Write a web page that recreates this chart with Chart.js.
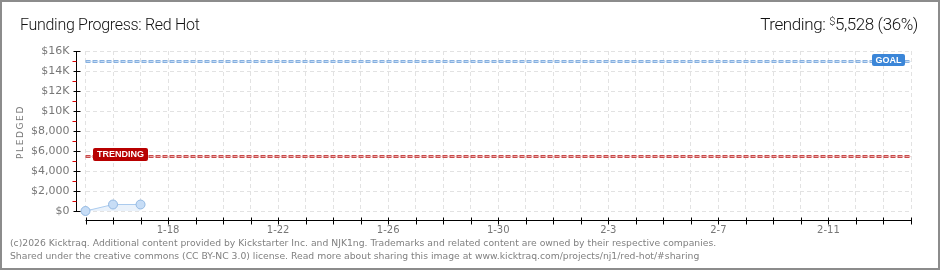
<!DOCTYPE html>
<html>
<head>
<meta charset="utf-8">
<script src="https://cdn.jsdelivr.net/npm/chart.js@4.4.1/dist/chart.umd.min.js"></script>
<style>
  html, body { margin: 0; padding: 0; background: #fff; }
  #frame { position: relative; width: 940px; height: 270px; box-sizing: border-box; border: 2px solid #8c8c8c; overflow: hidden; }
  #chart { position: absolute; left: -2px; top: -2px; }
  .title { position: absolute; left: 18px; top: 13px; font: 300 16px Roboto, sans-serif; color: #111; letter-spacing: -0.3px; }
  .trend { position: absolute; right: 20px; top: 12px; font: 300 17px Roboto, sans-serif; color: #111; letter-spacing: -0.4px; }
  .trend sup { font-size: 11px; vertical-align: 5px; }
  .ylabel { position: absolute; left: 10px; top: 125px; transform: rotate(-90deg); transform-origin: center; font: 9px "DejaVu Sans", sans-serif; color: #777; letter-spacing: 1.6px; width: 60px; margin-left: -22px; text-align: center; }
  .foot { position: absolute; left: 8px; font: 9.25px "DejaVu Sans", sans-serif; color: #808080; white-space: nowrap; }
</style>
</head>
<body>
<div id="frame">
  <canvas id="chart" width="940" height="270"></canvas>
  <div class="title">Funding Progress: Red Hot</div>
  <div class="trend">Trending: <sup>$</sup>5,528 (36%)</div>
  <div class="ylabel">PLEDGED</div>
  <div class="foot" style="top:235px">(c)2026 Kicktraq. Additional content provided by Kickstarter Inc. and NJK1ng. Trademarks and related content are owned by their respective companies.</div>
  <div class="foot" style="top:248px">Shared under the creative commons (CC BY-NC 3.0) license. Read more about sharing this image at www.kicktraq.com/projects/nj1/red-hot/#sharing</div>
</div>
<script>
const dates = ['1-15', '1-16', '1-17', '1-18', '1-19', '1-20', '1-21', '1-22', '1-23', '1-24', '1-25',
    '1-26', '1-27', '1-28', '1-29', '1-30', '1-31', '2-1', '2-2', '2-3', '2-4', '2-5', '2-6', '2-7',
    '2-8', '2-9', '2-10', '2-11', '2-12', '2-13', '2-14'];
const dateLabels = ['1-18', '1-22', '1-26', '1-30', '2-3', '2-7', '2-11'];
const pledged = [0, 650, 650];
const goal = 15000;
const trending = 5528;
const yTickValues = [0, 2000, 4000, 6000, 8000, 10000, 12000, 14000, 16000];
const yTickLabels = ['$0', '$2,000', '$4,000', '$6,000', '$8,000', '$10K', '$12K', '$14K', '$16K'];

function dashedBand(ctx, x1, x2, y, dark, light) {
    ctx.save();
    ctx.setLineDash([5, 2]);
    ctx.lineWidth = 3;
    ctx.strokeStyle = dark;
    ctx.beginPath(); ctx.moveTo(x1, y); ctx.lineTo(x2, y); ctx.stroke();
    ctx.lineWidth = 1;
    ctx.strokeStyle = light;
    ctx.beginPath(); ctx.moveTo(x1 + 1, y); ctx.lineTo(x2, y); ctx.stroke();
    ctx.restore();
}

function tag(ctx, x, y, w, h, bg, text) {
    ctx.save();
    ctx.fillStyle = bg;
    ctx.beginPath();
    ctx.roundRect(x, y, w, h, 2);
    ctx.fill();
    ctx.fillStyle = '#fff';
    ctx.font = 'bold 9px "Liberation Sans", Arial, sans-serif';
    ctx.textBaseline = 'middle';
    ctx.textAlign = 'center';
    ctx.fillText(text, x + w / 2, y + h / 2 + 0.5);
    ctx.restore();
}

const axesPlugin = {
    id: 'kickAxes',
    beforeDatasetsDraw(chart) {
        const { ctx, chartArea, scales } = chart;
        const y = scales.y;
        dashedBand(ctx, chartArea.left, chartArea.right, Math.round(y.getPixelForValue(goal)) + 0.5, '#86b0e0', '#c4daf3');
        dashedBand(ctx, chartArea.left, chartArea.right, Math.round(y.getPixelForValue(trending)) + 0.5, '#c84a4a', '#eaa6a6');
    },
    afterDraw(chart) {
        const { ctx, chartArea, scales } = chart;
        const x = scales.x, y = scales.y;
        ctx.save();
        ctx.lineWidth = 1;
        // y axis
        const ax = 76.5;
        ctx.strokeStyle = '#000';
        ctx.beginPath();
        ctx.moveTo(ax, Math.round(chartArea.top)); ctx.lineTo(ax, Math.round(chartArea.bottom) + 1);
        yTickValues.forEach(v => {
            const py = Math.round(y.getPixelForValue(v)) + 0.5;
            ctx.moveTo(ax - 3, py); ctx.lineTo(ax + 4, py);
        });
        ctx.stroke();
        ctx.strokeStyle = '#e00000';
        ctx.beginPath();
        yTickValues.slice(0, -1).forEach(v => {
            const py = Math.round(y.getPixelForValue(v + 1000)) + 0.5;
            ctx.moveTo(ax - 4, py); ctx.lineTo(ax, py);
        });
        ctx.stroke();
        // x axis
        const ay = 220.5;
        ctx.strokeStyle = '#000';
        ctx.beginPath();
        ctx.moveTo(chartArea.left, ay); ctx.lineTo(chartArea.right + 1, ay);
        dates.forEach((d, i) => {
            const px = Math.round(x.getPixelForValue(i)) + 0.5;
            ctx.moveTo(px, ay - 3); ctx.lineTo(px, ay + 4);
        });
        ctx.stroke();
        ctx.restore();
        tag(ctx, 93, 148, 55, 13, '#b80000', 'TRENDING');
        tag(ctx, 872, 54, 33, 12, '#3b86d8', 'GOAL');
    }
};

new Chart(document.getElementById('chart'), {
    type: 'line',
    data: {
        labels: dates,
        datasets: [{
            data: pledged,
            borderColor: '#abcbee',
            borderWidth: 1,
            backgroundColor: 'rgba(208, 226, 246, 0.45)',
            fill: 'origin',
            tension: 0,
            clip: false,
            pointRadius: 4.5,
            pointBackgroundColor: '#c7ddf6',
            pointBorderColor: '#92b8e2',
            pointBorderWidth: 1,
        }],
    },
    options: {
        responsive: false,
        animation: false,
        events: [],
        layout: { padding: { left: 30, top: 51, right: 29, bottom: 29 } },
        plugins: { legend: { display: false }, tooltip: { enabled: false } },
        scales: {
            x: {
                offset: false,
                afterFit: s => { s.height = 30; },
                border: { display: false, dash: [4, 3] },
                grid: { color: '#e2e2e2', tickLength: 0, drawTicks: false },
                ticks: {
                    autoSkip: false,
                    maxRotation: 0,
                    padding: 13,
                    color: '#777',
                    font: { family: '"DejaVu Sans", sans-serif', size: 10 },
                    callback: (v, i) => dateLabels.includes(dates[i]) ? dates[i] : '',
                },
            },
            y: {
                min: 0,
                max: 16000,
                afterFit: s => { s.width = 55.5; },
                afterBuildTicks: s => { s.ticks = yTickValues.map(v => ({ value: v })); },
                border: { display: false, dash: [4, 3] },
                grid: { color: '#e2e2e2', drawTicks: false },
                ticks: {
                    padding: 16,
                    color: '#777',
                    font: { family: '"DejaVu Sans", sans-serif', size: 11 },
                    callback: v => yTickLabels[yTickValues.indexOf(v)],
                },
            },
        },
    },
    plugins: [axesPlugin],
});
</script>
</body>
</html>
